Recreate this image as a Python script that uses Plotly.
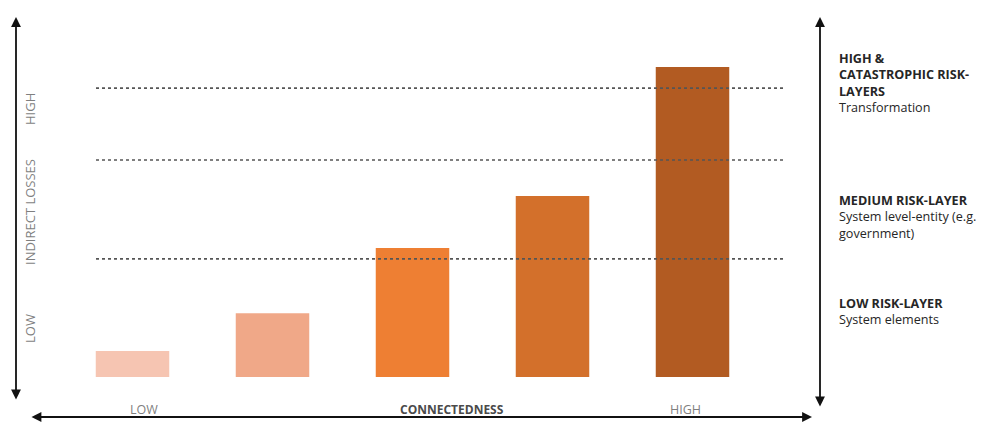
import plotly.graph_objects as go

# ---- data ----
categories = ["C1", "C2", "C3", "C4", "C5"]
indirect_losses = [0.84, 2.06, 4.16, 5.84, 10.0]
bar_colors = ["#F6C5B2", "#F0A888", "#EE7F33", "#D3702B", "#B25B22"]
layer_thresholds = [3.81, 7.0, 9.32]
x_tick_labels = ["LOW", "CONNECTEDNESS", "HIGH"]
y_tick_labels = ["LOW", "INDIRECT LOSSES", "HIGH"]

W, H = 988, 422
# axis mapping: category index -> pixel (140 px per category, first centre at 132.5 px)
X0, XS = 132.5, 140.0
Y0, YS = 377.0, 31.0
xr = [(0 - X0) / XS, (W - X0) / XS]
yr = [(Y0 - H) / YS, Y0 / YS]

def px(xp):
    return (xp - X0) / XS

def py(yp):
    return (Y0 - yp) / YS

xs = list(range(len(categories)))

fig = go.Figure()
fig.add_trace(go.Bar(
    x=xs, y=indirect_losses, width=0.525,
    marker=dict(color=bar_colors, line=dict(width=0)),
    hoverinfo="skip",
))

shapes = []
for t in layer_thresholds:
    shapes.append(dict(type="line", xref="x", yref="y", x0=px(96), x1=px(786), y0=t, y1=t,
                       line=dict(color="#555555", width=1.6, dash="dot"), layer="above"))

ann = []
def arrow(x_tip, y_tip, x_tail, y_tail):
    ann.append(dict(x=x_tip, y=y_tip, ax=x_tail, ay=y_tail, xref="x", yref="y",
                    axref="x", ayref="y", text="", showarrow=True,
                    arrowhead=2, startarrowhead=2, arrowside="end+start",
                    arrowsize=1.1, startarrowsize=1.1, arrowwidth=1.8, arrowcolor="#111111"))

arrow(px(16), py(17), px(16), py(401))
arrow(px(820), py(17), px(820), py(408))
arrow(px(812), py(417), px(30), py(417))

gray = "#7F7F7F"
font_main = "Open Sans"
# left rotated labels
for lbl, yp in zip(y_tick_labels, [329, 212, 109]):
    ann.append(dict(x=px(30), y=py(yp), xref="x", yref="y", text=lbl, textangle=-90,
                    showarrow=False, font=dict(family=font_main, size=13, color=gray)))
# bottom labels
for lbl, xp in zip(x_tick_labels, [144, 452, 685]):
    ann.append(dict(x=px(xp), y=py(409), xref="x", yref="y",
                    text=("<b>%s</b>" % lbl) if lbl == "CONNECTEDNESS" else lbl,
                    showarrow=False,
                    font=dict(family=font_main, size=12.5 if lbl != "CONNECTEDNESS" else 12,
                              color="#4A4A4A" if lbl == "CONNECTEDNESS" else gray)))

right_blocks = [
    (48, "<b>HIGH &amp;</b><br><b>CATASTROPHIC RISK-</b><br><b>LAYERS</b><br>Transformation"),
    (190, "<b>MEDIUM RISK-LAYER</b><br>System level-entity (e.g.<br>government)"),
    (293, "<b>LOW RISK-LAYER</b><br>System elements"),
]
for yp, txt in right_blocks:
    ann.append(dict(x=px(837), y=py(yp), xref="x", yref="y", text=txt, showarrow=False,
                    xanchor="left", yanchor="top", align="left",
                    font=dict(family=font_main, size=12.6, color="#262626")))

fig.update_layout(
    width=W, height=H, margin=dict(l=0, r=0, t=0, b=0),
    plot_bgcolor="white", paper_bgcolor="white", showlegend=False,
    xaxis=dict(range=xr, visible=False, fixedrange=True),
    yaxis=dict(range=yr, visible=False, fixedrange=True),
    shapes=shapes, annotations=ann,
)
fig.write_html("out.html")
